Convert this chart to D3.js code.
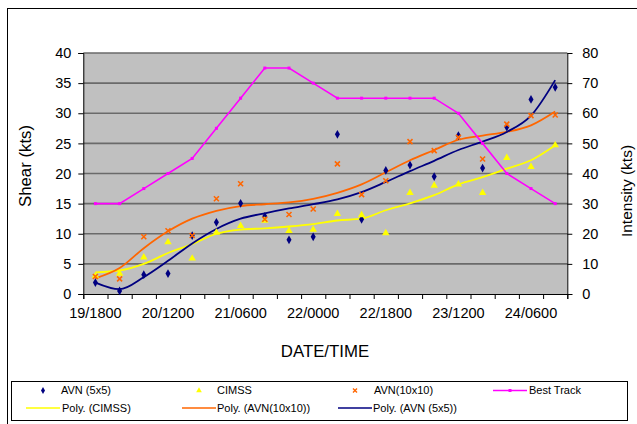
<!DOCTYPE html>
<html>
<head>
<meta charset="utf-8">
<script src="https://cdn.jsdelivr.net/npm/d3@7"></script>
<style>
  html, body { margin: 0; padding: 0; background: #fff; }
  svg { display: block; font-family: "Liberation Sans", Arial, sans-serif; }
</style>
</head>
<body>
<svg id="chart" width="637" height="424"></svg>
<script>
// Six-hourly analysis times (day/hour UTC)
const categories = ["19/1800","20/0000","20/0600","20/1200","20/1800","21/0000","21/0600",
  "21/1200","21/1800","22/0000","22/0600","22/1200","22/1800","23/0000","23/0600",
  "23/1200","23/1800","24/0000","24/0600","24/1200"];
const labelledCategories = ["19/1800","20/1200","21/0600","22/0000","22/1800","23/1200","24/0600"];
const shearTicks = [0,5,10,15,20,25,30,35,40];
const intensityTicks = [0,10,20,30,40,50,60,70,80];

// Vertical wind shear (kts)
const avn5x5  = [1.9,0.5,3.2,3.4,9.7,11.9,15.05,12.9,9.0,9.5,26.5,12.4,20.5,21.4,19.5,26.3,20.9,27.7,32.3,34.3];
const cimss   = [3.0,3.4,6.1,8.6,5.9,10.2,11.3,12.2,10.5,10.7,13.3,13.1,10.1,16.8,18.0,18.2,16.8,22.6,21.1,24.7];
const avn10x10 = [2.9,2.5,9.5,10.5,9.7,15.8,18.3,12.4,13.2,14.1,21.6,16.5,18.8,25.3,23.8,26.0,22.4,28.2,29.6,29.7];
// Best-track intensity (kts)
const bestTrack = [30,30,35,40,45,55,65,75,75,70,65,65,65,65,65,60,50,40,35,30];

// Polynomial trend curves
const polyCimss   = [3.6,3.9,5.0,6.8,8.3,10.0,10.7,10.9,11.2,11.6,12.2,12.5,13.9,15.05,16.4,18.2,19.4,20.8,22.2,24.7];
const polyAvn10   = [2.6,4.3,7.6,10.4,12.5,13.8,14.6,14.9,15.2,15.8,16.8,18.2,20.2,22.2,23.9,25.6,26.3,26.9,28.0,30.3];
const polyAvn5    = [1.9,0.8,2.8,5.5,8.4,10.8,12.5,13.4,14.2,14.9,15.7,16.9,18.6,20.4,22.1,23.9,25.3,26.9,29.6,35.5];

const C = { navy: "#000080", yellow: "#FFFF00", orange: "#FF6600", magenta: "#FF00FF" };

const svg = d3.select("#chart");
const plotLeft = 83.3, plotRight = 567.3, plotTop = 53, plotBottom = 294;

const x = d3.scaleBand().domain(categories).range([plotLeft, plotRight]);
const xEdge = d3.scaleLinear().domain([0, categories.length]).range([plotLeft, plotRight]);
const y = d3.scaleLinear().domain([0, 40]).range([plotBottom, plotTop]);
const yR = d3.scaleLinear().domain([0, 80]).range([plotBottom, plotTop]);
const cx = (d, i) => x(categories[i]) + x.bandwidth() / 2;

// Chart frame
svg.append("rect").attr("x", 7.5).attr("y", 8.5).attr("width", 640).attr("height", 430)
  .attr("fill", "#fff").attr("stroke", "#000").attr("stroke-width", 1);

// Plot area
svg.append("rect").attr("x", plotLeft).attr("y", plotTop).attr("width", plotRight - plotLeft).attr("height", plotBottom - plotTop)
  .attr("fill", "#C0C0C0");

// Gridlines
svg.append("g").selectAll("line").data(shearTicks.filter(t => t > 0)).join("line")
  .attr("x1", plotLeft).attr("x2", plotRight)
  .attr("y1", d => y(d)).attr("y2", d => y(d))
  .attr("stroke", "#6a6a6a").attr("stroke-width", 1.6);

// Left axis
const gL = svg.append("g").attr("transform", `translate(${plotLeft},0)`)
  .call(d3.axisLeft(y).tickValues(shearTicks).tickSize(5).tickPadding(7));
// Right axis
const gR = svg.append("g").attr("transform", `translate(${plotRight},0)`)
  .call(d3.axisRight(yR).tickValues(intensityTicks).tickSize(5).tickPadding(10));
// Bottom axis: tick marks at category boundaries, labels on every third category
const gBt = svg.append("g").attr("transform", `translate(0,${plotBottom})`)
  .call(d3.axisBottom(xEdge).tickValues(d3.range(categories.length + 1)).tickSize(5).tickFormat(""));
const gB = svg.append("g").attr("transform", `translate(0,${plotBottom})`)
  .call(d3.axisBottom(x).tickValues(labelledCategories).tickSize(0).tickPadding(14));
gB.select(".domain").remove();

[gL, gR, gBt, gB].forEach(g => {
  g.selectAll("text").attr("font-size", "14.5px").attr("font-family", "'Liberation Sans', Arial, sans-serif").attr("fill", "#000");
  g.selectAll("line").attr("stroke", "#000");
  g.select(".domain").attr("stroke", "#000");
});

// Axis titles
svg.append("text").attr("transform", "translate(31,166) rotate(-90)")
  .attr("text-anchor", "middle").attr("font-size", "16.8px").text("Shear (kts)");
svg.append("text").attr("transform", "translate(632,191) rotate(-90)")
  .attr("text-anchor", "middle").attr("font-size", "15.5px").text("Intensity (kts)");
svg.append("text").attr("x", 325).attr("y", 357)
  .attr("text-anchor", "middle").attr("font-size", "16.8px").text("DATE/TIME");

// Trend curves
const trend = d3.line().x(cx).y(d => y(d)).curve(d3.curveMonotoneX);
[[polyCimss, C.yellow], [polyAvn10, C.orange], [polyAvn5, C.navy]].forEach(([vals, col]) => {
  svg.append("path").datum(vals).attr("d", trend)
    .attr("fill", "none").attr("stroke", col).attr("stroke-width", 1.8);
});

// Markers
const diamond = d3.symbol().type(d3.symbolDiamond).size(22);
const tri = d3.symbol().type(d3.symbolTriangle).size(24);
svg.append("g").selectAll("path").data(avn5x5).join("path")
  .attr("d", diamond).attr("fill", C.navy)
  .attr("transform", (d, i) => `translate(${cx(d, i)},${y(d)})`);
svg.append("g").selectAll("path").data(cimss).join("path")
  .attr("d", tri).attr("fill", C.yellow)
  .attr("transform", (d, i) => `translate(${cx(d, i)},${y(d)})`);
svg.append("g").selectAll("path").data(avn10x10).join("path")
  .attr("d", "M-2.5,-2.5L2.5,2.5M-2.5,2.5L2.5,-2.5")
  .attr("stroke", C.orange).attr("stroke-width", 1.6).attr("fill", "none")
  .attr("transform", (d, i) => `translate(${cx(d, i)},${y(d)})`);

// Best track on the secondary axis
svg.append("path").datum(bestTrack)
  .attr("d", d3.line().x(cx).y(d => yR(d)))
  .attr("fill", "none").attr("stroke", C.magenta).attr("stroke-width", 1.6);
svg.append("g").selectAll("rect").data(bestTrack).join("rect")
  .attr("x", (d, i) => cx(d, i) - 1.5).attr("y", d => yR(d) - 1.5)
  .attr("width", 3).attr("height", 3).attr("fill", C.magenta);

// Legend
const lg = svg.append("g");
lg.append("rect").attr("x", 11.5).attr("y", 381.5).attr("width", 616).attr("height", 39)
  .attr("fill", "#fff").attr("stroke", "#000");
const legendItems = [
  { label: "AVN (5x5)", kind: "diamond", col: C.navy, mx: 43, tx: 61, row: 0 },
  { label: "CIMSS", kind: "tri", col: C.yellow, mx: 199, tx: 217, row: 0 },
  { label: "AVN(10x10)", kind: "x", col: C.orange, mx: 355, tx: 374, row: 0 },
  { label: "Best Track", kind: "track", col: C.magenta, mx: 510, tx: 529, row: 0 },
  { label: "Poly. (CIMSS)", kind: "line", col: C.yellow, mx: 43, tx: 62, row: 1 },
  { label: "Poly. (AVN(10x10))", kind: "line", col: C.orange, mx: 199, tx: 217, row: 1 },
  { label: "Poly. (AVN (5x5))", kind: "line", col: C.navy, mx: 355, tx: 373, row: 1 }
];
const rowY = [390.5, 408];
legendItems.forEach(it => {
  const yy = rowY[it.row];
  const g = lg.append("g");
  if (it.kind === "diamond") {
    g.append("path").attr("d", d3.symbol().type(d3.symbolDiamond).size(14)).attr("fill", it.col)
      .attr("transform", `translate(${it.mx},${yy})`);
  } else if (it.kind === "tri") {
    g.append("path").attr("d", d3.symbol().type(d3.symbolTriangle).size(14)).attr("fill", it.col)
      .attr("transform", `translate(${it.mx},${yy})`);
  } else if (it.kind === "x") {
    g.append("path").attr("d", "M-2,-2L2,2M-2,2L2,-2").attr("stroke", it.col).attr("stroke-width", 1.4)
      .attr("transform", `translate(${it.mx},${yy})`);
  } else if (it.kind === "track") {
    g.append("line").attr("x1", it.mx - 17).attr("x2", it.mx + 17).attr("y1", yy).attr("y2", yy)
      .attr("stroke", it.col).attr("stroke-width", 1.6);
    g.append("rect").attr("x", it.mx - 1.5).attr("y", yy - 1.5).attr("width", 3).attr("height", 3).attr("fill", it.col);
  } else {
    g.append("line").attr("x1", it.mx - 17).attr("x2", it.mx + 17).attr("y1", yy).attr("y2", yy)
      .attr("stroke", it.col).attr("stroke-width", 1.6);
  }
  g.append("text").attr("x", it.tx).attr("y", yy).attr("dy", "0.35em")
    .attr("font-size", "11px").text(it.label);
});
</script>
</body>
</html>
